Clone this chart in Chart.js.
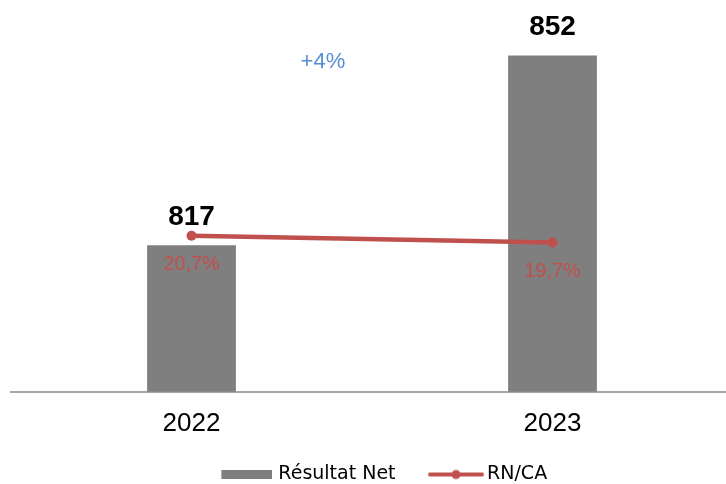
<!DOCTYPE html>
<html>
<head>
<meta charset="utf-8">
<script src="https://cdn.jsdelivr.net/npm/chart.js@4.4.1/dist/chart.umd.min.js"></script>
<style>
  html, body { margin: 0; padding: 0; background: #fff; overflow: hidden; }
  /* a bit wider than the window so the two categories land where the reference has them */
  #wrap { width: 740px; height: 484px; }
</style>
</head>
<body>
<div id="wrap"><canvas id="chart"></canvas></div>
<script>
// data
var years = ['2022', '2023'];
var resultatNet = [817, 852];
var rnCa = [20.7, 19.7];
var rnCaLabels = ['20,7%', '19,7%'];
var growthLabel = '+4%';

var grey = '#7f7f7f';
var red = '#c0504d';
var blue = '#558ed5';
var sans = '"Liberation Sans", Arial, sans-serif';

// legend swatches are images, centred by Chart.js on the point-style box;
// pad them so they sit just left of the label text
var legendBoxW = 72;
var legendFont = 19;
function swatch(w, h, gap, draw) {
  var c0 = legendBoxW / 2;
  var end = legendBoxW + legendFont / 2 - gap;
  var start = end - w;
  var hw = Math.max(end - c0, c0 - start);
  var c = document.createElement('canvas');
  c.width = Math.ceil(hw * 2);
  c.height = h;
  var g = c.getContext('2d');
  g.translate(start - (c0 - hw), 0);
  draw(g, w, h);
  return c;
}
var barSwatch = swatch(51, 9, 6, function (g, w, h) {
  g.fillStyle = grey;
  g.fillRect(0, 0, w, h);
});
var lineSwatch = swatch(56, 12, 3, function (g, w, h) {
  g.strokeStyle = red;
  g.lineWidth = 4;
  g.lineCap = 'round';
  g.beginPath();
  g.moveTo(2, h / 2);
  g.lineTo(w - 2, h / 2);
  g.stroke();
  g.fillStyle = red;
  g.beginPath();
  g.arc(w / 2, h / 2, 4.5, 0, Math.PI * 2);
  g.fill();
});

var labelPlugin = {
  id: 'valueLabels',
  afterLayout: function (chart) {
    // nudge the legend down to where the reference draws it
    var lg = chart.legend;
    lg.top += 8; lg.bottom += 8;
  },
  afterDatasetsDraw: function (chart) {
    var ctx = chart.ctx;
    var bars = chart.getDatasetMeta(0).data;
    var points = chart.getDatasetMeta(1).data;
    var area = chart.chartArea;
    ctx.save();
    ctx.textAlign = 'center';
    ctx.textBaseline = 'middle';

    ctx.font = 'bold 28px ' + sans;
    ctx.fillStyle = '#000';
    bars.forEach(function (bar, i) {
      ctx.fillText(String(resultatNet[i]), bar.x, bar.y - 28);
    });

    ctx.font = '20px ' + sans;
    ctx.fillStyle = red;
    points.forEach(function (pt, i) {
      ctx.fillText(rnCaLabels[i], pt.x, pt.y + 29);
    });

    ctx.font = '22px ' + sans;
    ctx.fillStyle = blue;
    ctx.fillText(growthLabel, area.left + area.width * 0.432, area.top + 50);
    ctx.restore();
  }
};

var ctx = document.getElementById('chart').getContext('2d');
var chart = new Chart(ctx, {
  type: 'bar',
  data: {
    labels: years,
    datasets: [
      {
        label: 'Résultat Net',
        data: resultatNet,
        backgroundColor: grey,
        barPercentage: 0.246,
        categoryPercentage: 1,
        yAxisID: 'y',
        order: 2
      },
      {
        type: 'line',
        label: 'RN/CA',
        data: rnCa,
        borderColor: red,
        backgroundColor: red,
        borderWidth: 4.5,
        pointRadius: 5,
        pointBorderWidth: 0,
        pointBackgroundColor: red,
        yAxisID: 'y1',
        order: 1
      }
    ]
  },
  options: {
    responsive: true,
    maintainAspectRatio: false,
    animation: false,
    layout: {
      padding: { left: 11, right: 7, top: 12, bottom: -2 }
    },
    scales: {
      x: {
        offset: true,
        grid: { display: false },
        border: { display: true, color: '#a6a6a6', width: 2 },
        ticks: {
          color: '#000',
          padding: 8,
          font: { family: sans, size: 26 }
        }
      },
      y: {
        display: false,
        min: 790,
        max: 860
      },
      y1: {
        display: false,
        min: -2.43,
        max: 53.84
      }
    },
    plugins: {
      tooltip: { enabled: false },
      legend: {
        position: 'bottom',
        labels: {
          usePointStyle: true,
          pointStyleWidth: legendBoxW,
          padding: 10,
          color: '#000',
          font: { family: '"DejaVu Sans", sans-serif', size: legendFont },
          generateLabels: function (chart) {
            return [
              { text: 'Résultat Net', pointStyle: barSwatch, datasetIndex: 0, fontColor: '#000' },
              { text: 'RN/CA', pointStyle: lineSwatch, datasetIndex: 1, fontColor: '#000' }
            ];
          }
        }
      }
    }
  },
  plugins: [labelPlugin]
});
</script>
</body>
</html>
